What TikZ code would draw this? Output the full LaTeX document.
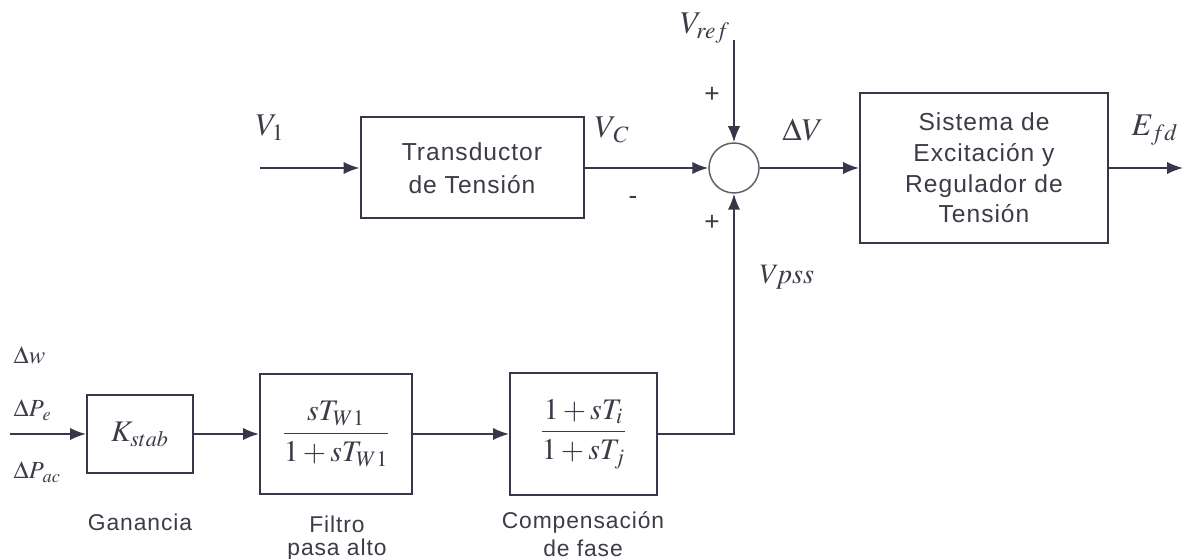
\documentclass[tikz,border=0pt]{standalone}
\usepackage[no-math]{fontspec}
\usepackage{mathptmx}
\usepackage{amsmath}
\setsansfont{Liberation Sans}
\newfontfamily\blockfont[LetterSpace=4]{Liberation Sans}
\usetikzlibrary{arrows.meta}

\definecolor{linegray}{RGB}{55,55,75}
\definecolor{textgray}{RGB}{60,60,72}

\begin{document}
\begin{tikzpicture}[
  >={Latex[length=0.32cm,width=0.25cm]},
  block/.style={draw=linegray, line width=0.04cm, align=center, inner sep=0pt,
    text=textgray, font=\blockfont\fontsize{14}{19}\selectfont},
  sumnode/.style={circle, draw=linegray!80, line width=0.03cm, minimum size=1cm, inner sep=0pt},
  sig/.style={->, draw=linegray, line width=0.04cm},
  mlabel/.style={text=textgray, font=\fontsize{18}{20}\selectfont},
  slabel/.style={text=textgray, font=\fontsize{14}{16}\selectfont},
  caption/.style={text=textgray, align=center, font=\blockfont\fontsize{13}{13}\selectfont},
  sign/.style={text=textgray, font=\sffamily\fontsize{15}{16}\selectfont}
]

\useasboundingbox (0,0) rectangle (23.72,11.18);

%\draw(0,0) grid ++ (24,11);

% upper loop
\node (trans) at (9.44,7.82) [block, minimum width=4.46cm, minimum height=2.02cm]{Transductor\\de Tensión};
\node (sum) at (14.68,7.82) [sumnode]{};
\node (exc) at (19.68,7.82) [block, minimum width=4.96cm, minimum height=3cm, font=\blockfont\fontsize{14}{17.5}\selectfont]{Sistema de\\Excitación y\\Regulador de\\Tensión};

\coordinate (vin) at (5.2,7.82);
\coordinate (vref) at (14.68,10.38);
\coordinate (efd) at (23.66,7.82);

\draw[sig] (vin) -- (trans);
\draw[sig] (trans) -- (sum);
\draw[sig] (vref) -- (sum);
\draw[sig] (sum) -- (exc);
\draw[sig] (exc) -- (efd);

\node (lv1) at (5.4,8.62) [mlabel]{$V_1$};
\node (lvc) at (12.24,8.58) [mlabel]{$V_{\,C}$};
\node (lvref) at (14.1,10.62) [mlabel]{$V_{ref}$};
\node (ldv) at (16.06,8.58) [mlabel]{$\Delta V$};
\node (lefd) at (23.1,8.58) [mlabel]{$E_{fd}$};
\node (lvpss) at (15.74,5.64) [mlabel, font=\fontsize{16}{18}\selectfont]{$V\!pss$};

\node (ptop) at (14.24,9.28) [sign]{+};
\node (pbot) at (14.24,6.72) [sign]{+};
\node (mvc) at (12.66,7.18) [sign]{-};

% stabilizer
\node (kstab) at (2.8,2.5) [block, minimum width=2.12cm, minimum height=1.56cm, font=\fontsize{17}{19}\selectfont]{$K_{stab}$};
\node (filt) at (6.72,2.5) [block, minimum width=3.04cm, minimum height=2.4cm, font=\fontsize{17}{19}\selectfont]{$\dfrac{sT_{W1}}{1+sT_{W1}}$};
\node (comp) at (11.67,2.5) [block, minimum width=2.94cm, minimum height=2.44cm, font=\fontsize{17}{19}\selectfont]{$\dfrac{1+sT_i}{1+sT_j}$};

\coordinate (sin) at (0.2,2.5);

\draw[sig] (sin) -- (kstab);
\draw[sig] (kstab) -- (filt);
\draw[sig] (filt) -- (comp);
\draw[sig] (comp.east) -| (sum.south);

\node (ldw) at (0.15,4.08) [slabel, anchor=west]{$\Delta w$};
\node (ldpe) at (0.15,2.98) [slabel, anchor=west]{$\Delta P_{\,e}$};
\node (ldpac) at (0.15,1.74) [slabel, anchor=west]{$\Delta P_{\,ac}$};

\node (cgan) at (2.8,0.74) [caption]{Ganancia};
\node (cfilt) at (6.74,0.41) [caption]{Filtro\\pasa alto};
\node (ccomp) at (11.66,0.5) [caption, font=\blockfont\fontsize{13}{16}\selectfont]{Compensación\\de fase};

\end{tikzpicture}
\end{document}
